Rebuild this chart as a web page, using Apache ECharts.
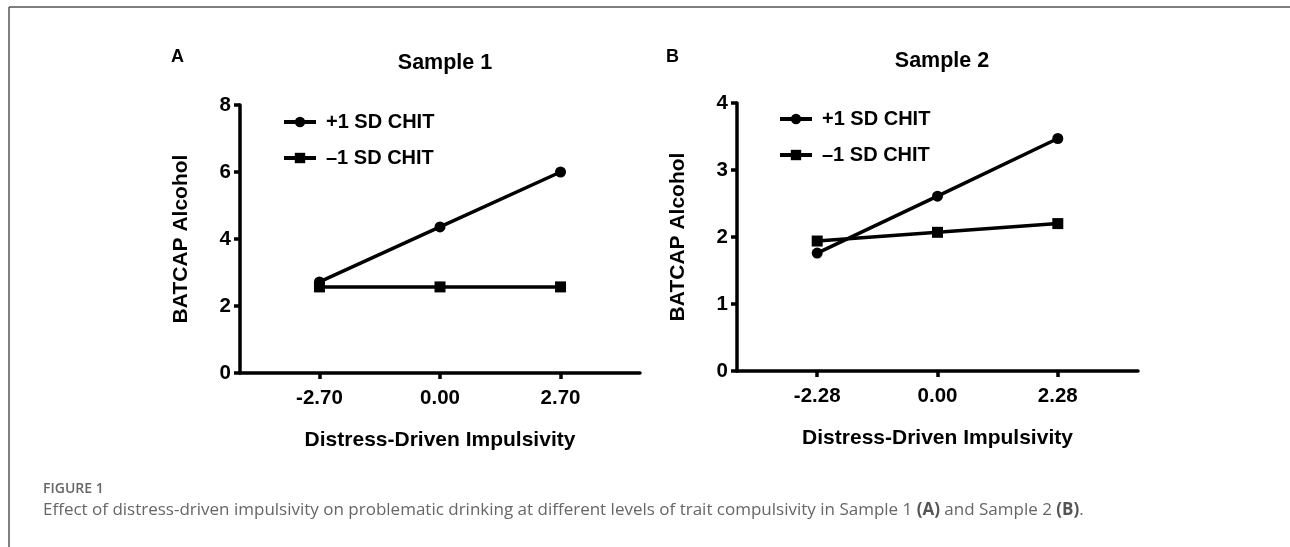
<!DOCTYPE html>
<html>
<head>
<meta charset="utf-8">
<script src="https://cdn.jsdelivr.net/npm/echarts@6/dist/echarts.min.js"></script>
<style>
  html, body { margin: 0; padding: 0; background: #fff; }
  #main { width: 1290px; height: 547px; }
</style>
</head>
<body>
<div id="main"></div>
<script>
// data
var legendNames = ['+1 SD CHIT', '\u20131 SD CHIT'];
var xA = [-2.70, 0, 2.70];
var plusA = [2.72, 4.36, 6.00];
var minusA = [2.57, 2.57, 2.57];
var xB = [-2.28, 0, 2.28];
var plusB = [1.76, 2.61, 3.47];
var minusB = [1.94, 2.07, 2.20];

var font = '"Liberation Sans", Arial, sans-serif';
var capFont = '"Open Sans", "Noto Sans", sans-serif';

function pairs(xs, ys) {
	var out = [];
	for (var i = 0; i < xs.length; i++) out.push([xs[i], ys[i]]);
	return out;
}

function xAxisFor(idx, ticks, lim) {
	return {
		type: 'value', gridIndex: idx, min: -lim, max: lim,
		name: 'Distress-Driven Impulsivity', nameLocation: 'middle', nameGap: 57,
		nameTextStyle: { color: '#000', fontFamily: font, fontWeight: 'bold', fontSize: 21 },
		splitLine: { show: false },
		axisLine: { onZero: false, lineStyle: { color: '#000', width: 3.5 } },
		axisTick: { length: 6, lineStyle: { color: '#000', width: 3.5 }, customValues: ticks },
		axisLabel: {
			color: '#000', fontFamily: font, fontWeight: 'bold', fontSize: 20.5, margin: 15,
			customValues: ticks,
			formatter: function (v) { return v.toFixed(2); }
		}
	};
}

function yAxisFor(idx, max, step) {
	return {
		type: 'value', gridIndex: idx, min: 0, max: max, interval: step,
		name: 'BATCAP Alcohol', nameLocation: 'middle', nameGap: 48,
		nameTextStyle: { color: '#000', fontFamily: font, fontWeight: 'bold', fontSize: 21 },
		splitLine: { show: false },
		axisLine: { show: true, onZero: false, lineStyle: { color: '#000', width: 3.5 } },
		axisTick: { show: true, length: 6, lineStyle: { color: '#000', width: 3.5 } },
		axisLabel: { color: '#000', fontFamily: font, fontWeight: 'bold', fontSize: 20.5, margin: 9 }
	};
}

function lineSeries(name, idx, data, symbol) {
	return {
		name: name, type: 'line', xAxisIndex: idx, yAxisIndex: idx,
		data: data, symbol: symbol, symbolSize: 11,
		lineStyle: { color: '#000', width: 3.5 },
		itemStyle: { color: '#000' },
		animation: false
	};
}

function legendFor(left, top) {
	return {
		data: legendNames, orient: 'vertical', left: left, top: top,
		itemWidth: 32, itemHeight: 13, itemGap: 16,
		selectedMode: false,
		lineStyle: { color: '#000', width: 4 },
		textStyle: { color: '#000', fontFamily: font, fontWeight: 'bold', fontSize: 20, lineHeight: 20, padding: [0, 0, 0, 5] }
	};
}

var chart = echarts.init(document.getElementById('main'));
chart.setOption({
	backgroundColor: '#fff',
	animation: false,
	title: [
		{ text: 'Sample 1', left: 440, top: 47, textAlign: 'center',
		  textStyle: { color: '#000', fontFamily: font, fontWeight: 'bold', fontSize: 21.5 } },
		{ text: 'Sample 2', left: 937, top: 45, textAlign: 'center',
		  textStyle: { color: '#000', fontFamily: font, fontWeight: 'bold', fontSize: 21.5 } },
		{ text: 'A', left: 166, top: 43,
		  textStyle: { color: '#000', fontFamily: font, fontWeight: 'bold', fontSize: 18 } },
		{ text: 'B', left: 661, top: 43,
		  textStyle: { color: '#000', fontFamily: font, fontWeight: 'bold', fontSize: 18 } }
	],
	legend: [legendFor(277, 107), legendFor(773, 104)],
	grid: [
		{ left: 240, top: 105, width: 400, height: 268 },
		{ left: 737, top: 103, width: 401, height: 268 }
	],
	xAxis: [xAxisFor(0, xA, 4.48), xAxisFor(1, xB, 3.8)],
	yAxis: [yAxisFor(0, 8, 2), yAxisFor(1, 4, 1)],
	series: [
		lineSeries(legendNames[0], 0, pairs(xA, plusA), 'circle'),
		lineSeries(legendNames[1], 0, pairs(xA, minusA), 'rect'),
		lineSeries(legendNames[0], 1, pairs(xB, plusB), 'circle'),
		lineSeries(legendNames[1], 1, pairs(xB, minusB), 'rect')
	],
	graphic: [
		// frame
		{ type: 'line', shape: { x1: 9, y1: 7, x2: 1290, y2: 7 }, style: { stroke: '#555', lineWidth: 1.5 } },
		{ type: 'line', shape: { x1: 9, y1: 7, x2: 9, y2: 547 }, style: { stroke: '#555', lineWidth: 1.5 } },
		// caption
		{ type: 'text', left: 43, top: 482,
		  style: { text: 'FIGURE 1', fill: '#666', font: '600 14px ' + capFont } },
		{ type: 'text', left: 43, top: 502,
		  style: {
			text: 'Effect of distress-driven impulsivity on problematic drinking at different levels of trait compulsivity in Sample 1 {b|(A)} and Sample 2 {b|(B)}.',
			fill: '#666', font: '17px ' + capFont,
			rich: { b: { fill: '#555', fontWeight: 'bold', fontSize: 17, fontFamily: capFont } }
		  } }
	]
});
</script>
</body>
</html>
